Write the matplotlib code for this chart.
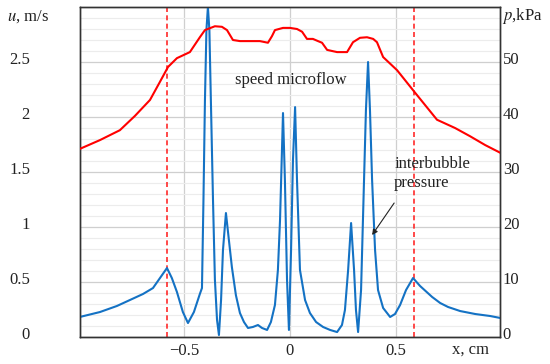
import matplotlib
matplotlib.use('Agg')
import matplotlib.pyplot as plt
import matplotlib.transforms as mtransforms
from matplotlib.ticker import MultipleLocator

# pressure curve (right axis, kPa)
x_p = [-0.991, -0.896, -0.802, -0.731, -0.660, -0.613, -0.575, -0.533, -0.472, -0.425,
       -0.401, -0.354, -0.321, -0.297, -0.269, -0.236, -0.189, -0.142, -0.104, -0.085,
       -0.071, -0.033, 0.0, 0.033, 0.057, 0.080, 0.108, 0.132, 0.151, 0.175,
       0.222, 0.269, 0.297, 0.330, 0.363, 0.392, 0.410, 0.439, 0.505, 0.590,
       0.693, 0.778, 0.849, 0.920, 0.991]
p_kpa = [34.2, 35.8, 37.6, 40.2, 43.1, 46.4, 49.1, 50.7, 51.8, 54.5,
         55.8, 56.5, 56.4, 55.8, 54.0, 53.8, 53.8, 53.8, 53.5, 54.7,
         55.8, 56.2, 56.2, 56.0, 55.5, 54.2, 54.2, 53.8, 53.5, 52.2,
         51.8, 51.8, 53.6, 54.4, 54.5, 54.2, 53.6, 50.9, 48.5, 44.4,
         39.5, 38.0, 36.5, 34.9, 33.5]

# microflow speed curve (left axis, m/s)
x_u = [-0.991, -0.896, -0.816, -0.755, -0.693, -0.646, -0.613, -0.580, -0.557, -0.533,
       -0.505, -0.481, -0.453, -0.425, -0.415, -0.408, -0.401, -0.394, -0.387, -0.380,
       -0.373, -0.363, -0.354, -0.344, -0.335, -0.325, -0.316, -0.302, -0.288, -0.274,
       -0.255, -0.236, -0.217, -0.198, -0.175, -0.151, -0.132, -0.108, -0.090, -0.071,
       -0.057, -0.047, -0.033, -0.024, -0.014, -0.005, 0.005, 0.014, 0.024, 0.033,
       0.047, 0.071, 0.094, 0.123, 0.156, 0.189, 0.222, 0.245, 0.259, 0.274,
       0.288, 0.302, 0.311, 0.321, 0.335, 0.349, 0.358, 0.368, 0.377, 0.387,
       0.401, 0.415, 0.439, 0.472, 0.495, 0.519, 0.547, 0.580, 0.613, 0.670,
       0.708, 0.745, 0.802, 0.873, 0.943, 0.991]
u_ms = [0.182, 0.227, 0.282, 0.336, 0.391, 0.445, 0.536, 0.627, 0.536, 0.409,
        0.227, 0.127, 0.227, 0.391, 0.445, 1.245, 2.15, 2.79, 3.0, 2.79,
        2.15, 1.245, 0.52, 0.155, 0.018, 0.336, 0.79, 1.127, 0.88, 0.636,
        0.38, 0.218, 0.136, 0.082, 0.091, 0.109, 0.082, 0.064, 0.136, 0.291,
        0.609, 1.064, 2.036, 1.427, 0.518, 0.064, 0.79, 1.609, 2.09, 1.427,
        0.609, 0.336, 0.218, 0.136, 0.091, 0.064, 0.045, 0.109, 0.245, 0.609,
        1.036, 0.609, 0.245, 0.045, 0.427, 1.427, 2.064, 2.5, 2.064, 1.427,
        0.79, 0.427, 0.264, 0.182, 0.209, 0.291, 0.427, 0.536, 0.464, 0.364,
        0.309, 0.273, 0.236, 0.209, 0.191, 0.173]

bubble_edges = [-0.58, 0.585]
u_ticks = [0, 0.5, 1, 1.5, 2, 2.5]
p_ticks = [0, 10, 20, 30, 40, 50]
x_ticks = [-0.5, 0, 0.5]

plt.rcParams['font.family'] = ['Liberation Serif', 'DejaVu Serif']
plt.rcParams['mathtext.fontset'] = 'stix'

fig = plt.figure(figsize=(5.5, 3.64), dpi=100)
ax = fig.add_axes([80 / 550, 27 / 364, 420 / 550, 330 / 364])
ax2 = ax.twinx()

ax.set_xlim(-0.99, 0.99)
ax.set_ylim(0, 3.0)
ax2.set_ylim(0, 60)

# grid
ax.yaxis.set_minor_locator(MultipleLocator(0.1))
ax.grid(which='minor', axis='y', color='#ececec', linewidth=0.8)
ax.grid(which='major', axis='both', color='#cfcfcf', linewidth=0.9)
ax.set_axisbelow(True)

for xe in bubble_edges:
    ax.axvline(xe, color='#ff2a2a', linestyle=(0, (3, 2)), linewidth=1.2, zorder=2)

ax.plot(x_u, u_ms, color='#1472c4', linewidth=1.5, zorder=3)
ax2.plot(x_p, p_kpa, color='#ff0000', linewidth=1.5, zorder=3)

ax.set_xticks(x_ticks, ['\u22120.5', '0', '0.5'])
ax.set_yticks(u_ticks, ['0', '0.5', '1', '1.5', '2', '2.5'])
ax2.set_yticks(p_ticks, [str(v) for v in p_ticks])

ax.tick_params(axis='both', which='both', length=0, labelsize=12, colors='#222222')
ax.tick_params(axis='y', pad=36)
ax.tick_params(axis='x', pad=4)
ax2.tick_params(axis='y', length=0, labelsize=12, pad=2, colors='#222222')

# labels sit a little above their gridlines
shift = mtransforms.ScaledTranslation(0, 3 / 72, fig.dpi_scale_trans)
for lab in ax.get_yticklabels() + ax2.get_yticklabels():
    lab.set_transform(lab.get_transform() + shift)

for a in (ax, ax2):
    for s in a.spines.values():
        s.set_color('#333333')
        s.set_linewidth(1.0)

fig.text(7 / 550, 1 - 17 / 364, '$u$, m/s', fontsize=12, va='center', ha='left', color='#222222')
fig.text(502 / 550, 1 - 16 / 364, '$p$,kPa', fontsize=12, va='center', ha='left', color='#222222')
fig.text(470 / 550, 1 - 350 / 364, 'x, cm', fontsize=12, va='center', ha='center', color='#222222')

ax.text(0.005, 2.336, 'speed microflow', fontsize=12, ha='center', va='center', color='#222222')
ax.text(0.491, 1.487, 'interbubble\npressure', fontsize=12, ha='left', va='center',
        linespacing=1.3, color='#222222')
ax.annotate('', xy=(0.387, 0.927), xytext=(0.491, 1.218),
            arrowprops=dict(arrowstyle='-|>', color='#222222', lw=0.8,
                            mutation_scale=8, shrinkA=0, shrinkB=0))

fig.savefig('out.png', dpi=100)
